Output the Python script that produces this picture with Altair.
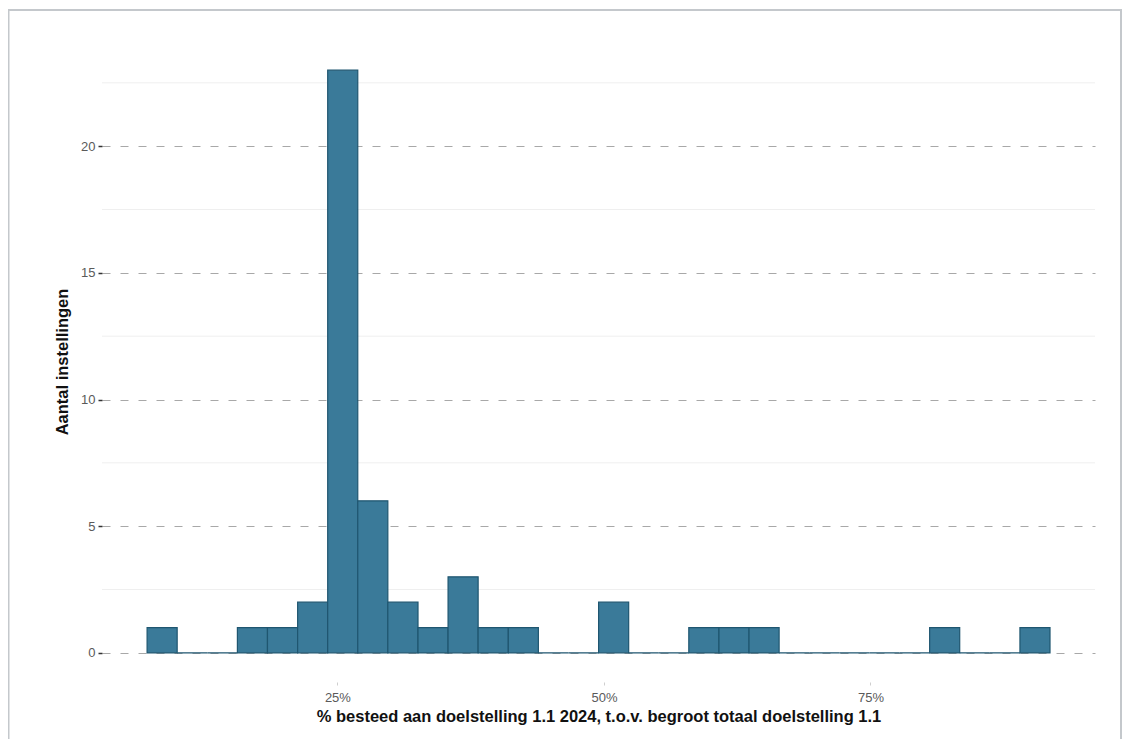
import altair as alt
import pandas as pd

# Histogram bins (% spent)
bin_lo = [7.15, 9.97, 12.80, 15.62, 18.44, 21.27, 24.09, 26.91, 29.73, 32.56,
          35.38, 38.20, 41.03, 43.85, 46.67, 49.50, 52.32, 55.14, 57.96, 60.79,
          63.61, 66.43, 69.26, 72.08, 74.90, 77.73, 80.55, 83.37, 86.19, 89.02]
bin_hi = [9.97, 12.80, 15.62, 18.44, 21.27, 24.09, 26.91, 29.73, 32.56, 35.38,
          38.20, 41.03, 43.85, 46.67, 49.50, 52.32, 55.14, 57.96, 60.79, 63.61,
          66.43, 69.26, 72.08, 74.90, 77.73, 80.55, 83.37, 86.19, 89.02, 91.84]
counts = [1, 0, 0, 1, 1, 2, 23, 6, 2, 1,
          3, 1, 1, 0, 0, 2, 0, 0, 1, 1,
          1, 0, 0, 0, 0, 0, 1, 0, 0, 1]

major_y = [0, 5, 10, 15, 20]
minor_y = [2.5, 7.5, 12.5, 17.5, 22.5]
x_ticks = [25, 50, 75]

x_title = "% besteed aan doelstelling 1.1 2024, t.o.v. begroot totaal doelstelling 1.1"
y_title = "Aantal instellingen"

df = pd.DataFrame({"lo": bin_lo, "hi": bin_hi, "n": counts})

W, H = 993, 641
xscale = alt.Scale(domain=[2.92, 96.06], nice=False, zero=False)
yscale = alt.Scale(domain=[-1.15, 24.15], nice=False, zero=False)

FONT = "Liberation Sans"

yaxis = alt.Axis(
    values=major_y, title=y_title, grid=True, gridDash=[8, 10],
    gridColor="#a8a8a8", gridWidth=1, domain=False,
    tickColor="#333333", tickSize=4, tickWidth=1.5,
    labelColor="#5a5a5a", labelFontSize=13, labelFont=FONT, labelPadding=3,
    titleFont=FONT, titleFontSize=16.5, titleFontWeight="bold",
    titleColor="#111111", titlePadding=10)

xaxis = alt.Axis(
    values=x_ticks, labelExpr="datum.value + '%'", title=x_title,
    grid=False, domain=False, tickColor="#cfcfcf", tickSize=3, tickWidth=1,
    labelColor="#5a5a5a", labelFontSize=13, labelFont=FONT, labelPadding=6,
    titleFont=FONT, titleFontSize=16.5, titleFontWeight="bold",
    titleColor="#111111", titlePadding=4)

minor = alt.Chart(pd.DataFrame({"y": minor_y})).mark_rule(
    color="#efefef", strokeWidth=1
).encode(y=alt.Y("y:Q", scale=yscale, axis=yaxis))

bars = alt.Chart(df).mark_rect(
    fill="#3a7a99", stroke="#1f5670", strokeWidth=1.2
).encode(
    x=alt.X("lo:Q", scale=xscale, axis=xaxis),
    x2="hi:Q",
    y=alt.Y("n:Q", scale=yscale, axis=yaxis),
    y2=alt.datum(0),
)

border = alt.Chart(pd.DataFrame({"a": [0]})).mark_rect(
    fill="transparent", stroke="#c4c8cc", strokeWidth=2
).encode(
    x=alt.value(-93.5), x2=alt.value(1019), y=alt.value(-31), y2=alt.value(760)
)

chart = alt.layer(minor, bars, border).properties(
    width=W, height=H,
    background="white",
    autosize=alt.AutoSizeParams(type="none"),
    padding={"left": 94, "top": 33, "right": 28, "bottom": 57},
).configure_view(stroke="transparent", strokeWidth=0)

chart.save("out.html", embed_options={"renderer": "svg", "actions": False})
